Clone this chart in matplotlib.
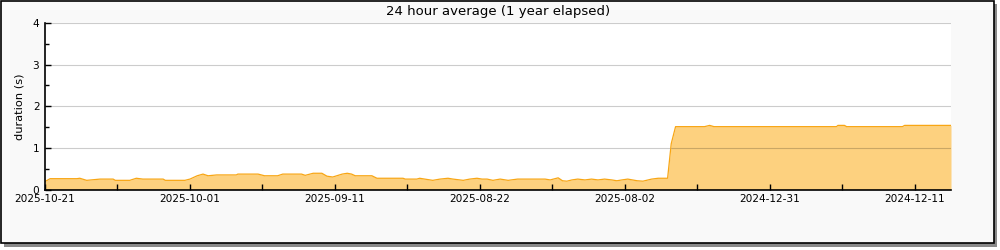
import matplotlib
matplotlib.use("Agg")
import matplotlib.pyplot as plt
from matplotlib.patches import Rectangle

# data (x = days from left edge, y = seconds)
days = [0, 0.7, 4.4, 4.8, 5.75, 7.6, 9.4, 9.7, 11.7, 12.6, 13.5, 16.3, 16.6, 19.3,
        20, 21, 21.8, 22.5, 23.7, 26.4, 26.6, 29.4, 30.3, 32.1, 32.8, 35.4, 35.9,
        37, 38.2, 38.9, 39.7, 41, 41.7, 42.3, 42.8, 45.1, 45.8, 49.4, 49.7, 51.3,
        51.7, 52.4, 53.5, 54.5, 55.6, 56.3, 57.7, 58.6, 59.6, 60.3, 61, 61.8, 62.8,
        63.9, 65.2, 69, 69.7, 70.8, 71.4, 72, 72.7, 73.5, 74.5, 75.4, 76.3, 77.2,
        78.2, 78.9, 79.6, 80.4, 81.7, 82.5, 83.7, 84.6, 85.9, 86.4, 87, 91, 91.7,
        92.3, 109.2, 109.4, 110.3, 110.6, 118.3, 118.6, 125]
duration = [0.19, 0.26, 0.26, 0.27, 0.22, 0.25, 0.25, 0.22, 0.22, 0.27, 0.25, 0.25, 0.22, 0.22,
            0.25, 0.33, 0.37, 0.33, 0.35, 0.35, 0.37, 0.37, 0.33, 0.33, 0.37, 0.37, 0.34,
            0.39, 0.39, 0.32, 0.30, 0.37, 0.39, 0.37, 0.33, 0.33, 0.27, 0.27, 0.25, 0.25,
            0.27, 0.25, 0.22, 0.25, 0.27, 0.25, 0.22, 0.25, 0.27, 0.25, 0.25, 0.22, 0.25,
            0.22, 0.25, 0.25, 0.23, 0.28, 0.21, 0.20, 0.23, 0.25, 0.23, 0.25, 0.23, 0.25,
            0.23, 0.21, 0.23, 0.25, 0.21, 0.20, 0.25, 0.27, 0.27, 1.1, 1.51, 1.51, 1.54,
            1.51, 1.51, 1.54, 1.54, 1.51, 1.51, 1.54, 1.54]

tick_days = [0, 20, 40, 60, 80, 100, 120]
tick_labels = ["2025-10-21", "2025-10-01", "2025-09-11", "2025-08-22",
               "2025-08-02", "2024-12-31", "2024-12-11"]

fig = plt.figure(figsize=(10, 2.5), dpi=100, facecolor="white")

# outer frame with drop shadow
fig.patches.append(Rectangle((4 / 1000, 3 / 250), 993 / 1000, 243 / 250,
                             transform=fig.transFigure, facecolor="#8a8a8a",
                             edgecolor="none", zorder=-3))
fig.patches.append(Rectangle((1 / 1000, 7 / 250), 993 / 1000, 242 / 250,
                             transform=fig.transFigure, facecolor="#f9f9f9",
                             edgecolor="black", linewidth=1.2, zorder=-2))

ax = fig.add_axes([0.045, 0.242, 0.906, 0.666])
ax.set_facecolor("white")

ax.fill_between(days, duration, 0, color="#fdd17f", linewidth=0, zorder=1)
ax.plot(days, duration, color="#f8a614", linewidth=0.9, zorder=3)

ax.set_xlim(0, 125)
ax.set_ylim(0, 4)
ax.set_xticks(tick_days)
ax.set_xticklabels(tick_labels)
ax.set_xticks(range(10, 125, 20), minor=True)
ax.set_yticks([0, 1, 2, 3, 4])
ax.set_yticks([0.5, 1.5, 2.5, 3.5], minor=True)

ax.grid(axis="y", which="major", color="black", alpha=0.2, linewidth=0.8, zorder=2)
ax.set_axisbelow(False)

for s in ["top", "right"]:
    ax.spines[s].set_visible(False)
for s in ["left", "bottom"]:
    ax.spines[s].set_linewidth(1.2)
    ax.spines[s].set_zorder(4)

ax.tick_params(which="both", direction="in", labelsize=7.6, width=1)
ax.tick_params(which="major", length=4)
ax.tick_params(which="minor", length=3)
ax.tick_params(axis="x", which="minor", length=4)
ax.tick_params(axis="y", pad=4)
ax.tick_params(axis="x", pad=3)

ax.set_ylabel("duration (s)", fontsize=8.2, labelpad=6)

fig.text(0.498, 0.955, "24 hour average (1 year elapsed)", ha="center", va="center",
         fontsize=9.5)

fig.savefig("out.png", dpi=100, facecolor=fig.get_facecolor())
